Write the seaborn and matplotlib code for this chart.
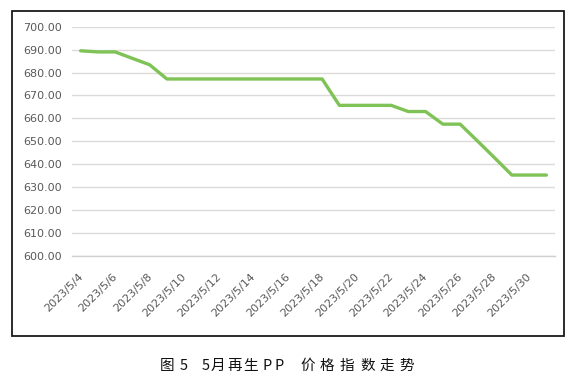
import matplotlib
matplotlib.use("Agg")
import matplotlib.pyplot as plt
import matplotlib.transforms as mtransforms
from matplotlib.patches import Rectangle
import seaborn as sns
import pandas as pd

days = list(range(4, 32))
dates = [f"2023/5/{d}" for d in days]
prices = [689.5, 689.0, 689.0, 686.2, 683.4, 677.2, 677.2, 677.2, 677.2, 677.2,
          677.2, 677.2, 677.2, 677.2, 677.2, 665.7, 665.7, 665.7, 665.7, 663.0,
          663.0, 657.5, 657.5, 650.2, 642.8, 635.3, 635.3, 635.3]
yticks = [600, 610, 620, 630, 640, 650, 660, 670, 680, 690, 700]
caption_parts = ["图", "5", "5", "月", "再", "生", "P", "P", "价", "格", "指", "数", "走", "势"]

df = pd.DataFrame({"idx": range(len(dates)), "date": dates, "price": prices})

sns.set_style("white")
plt.rcParams['font.family'] = ['DejaVu Sans']

fig = plt.figure(figsize=(5.76, 3.91), dpi=100)
fig.patch.set_facecolor("white")

# border box
W, H = 576, 391
fig.add_artist(Rectangle((12 / W, 1 - 336 / H), 552 / W, 325 / H,
                         transform=fig.transFigure, fill=False,
                         edgecolor="#1a1a1a", linewidth=1.3))

ax = fig.add_axes([72 / W, 1 - 256 / H, (555 - 72) / W, (256 - 26.7) / H])
ax.set_facecolor("none")

sns.lineplot(data=df, x="idx", y="price", ax=ax, color="#7fc256",
             linewidth=2.4, legend=False)

ax.set_xlim(-0.5, len(dates) - 0.5)
ax.set_ylim(600, 700)
ax.set_yticks(yticks)
ax.set_yticklabels([f"{v:.2f}" for v in yticks], color="#595959", fontsize=8)
ax.yaxis.grid(True, color="#dedad8", linewidth=1)
ax.tick_params(axis="y", length=0, pad=7)

# x axis
major = list(range(0, len(dates), 2))
ax.set_xticks(major)
ax.set_xticklabels([dates[i] for i in major], rotation=45, ha="right",
                   va="top", color="#595959", fontsize=8)
ax.set_xticks([i - 0.5 for i in range(0, len(dates) + 1, 2)], minor=True)
ax.tick_params(axis="x", which="major", length=0, pad=11)
ax.tick_params(axis="x", which="minor", length=4, color="#d0d0d0", width=1)
offset = mtransforms.ScaledTranslation(4 / 100, 0, fig.dpi_scale_trans)
for lbl in ax.get_xticklabels():
    lbl.set_transform(lbl.get_transform() + offset)

ax.set_xlabel("")
ax.set_ylabel("")
for s in ["top", "right", "left"]:
    ax.spines[s].set_visible(False)
ax.spines["bottom"].set_color("#d0d0d0")
ax.spines["bottom"].set_linewidth(1)

# caption with wide letter spacing
cap_x = [160, 180, 202, 211, 227, 243, 262, 275, 300, 320, 340, 360, 380, 399]
for part, px in zip(caption_parts, cap_x):
    fig.text(px / W, 1 - 366 / H, part, ha="left", va="center", fontsize=10.5,
             family=["Noto Sans CJK SC", "DejaVu Sans"], color="#111111")

fig.savefig("out.png", dpi=100)
